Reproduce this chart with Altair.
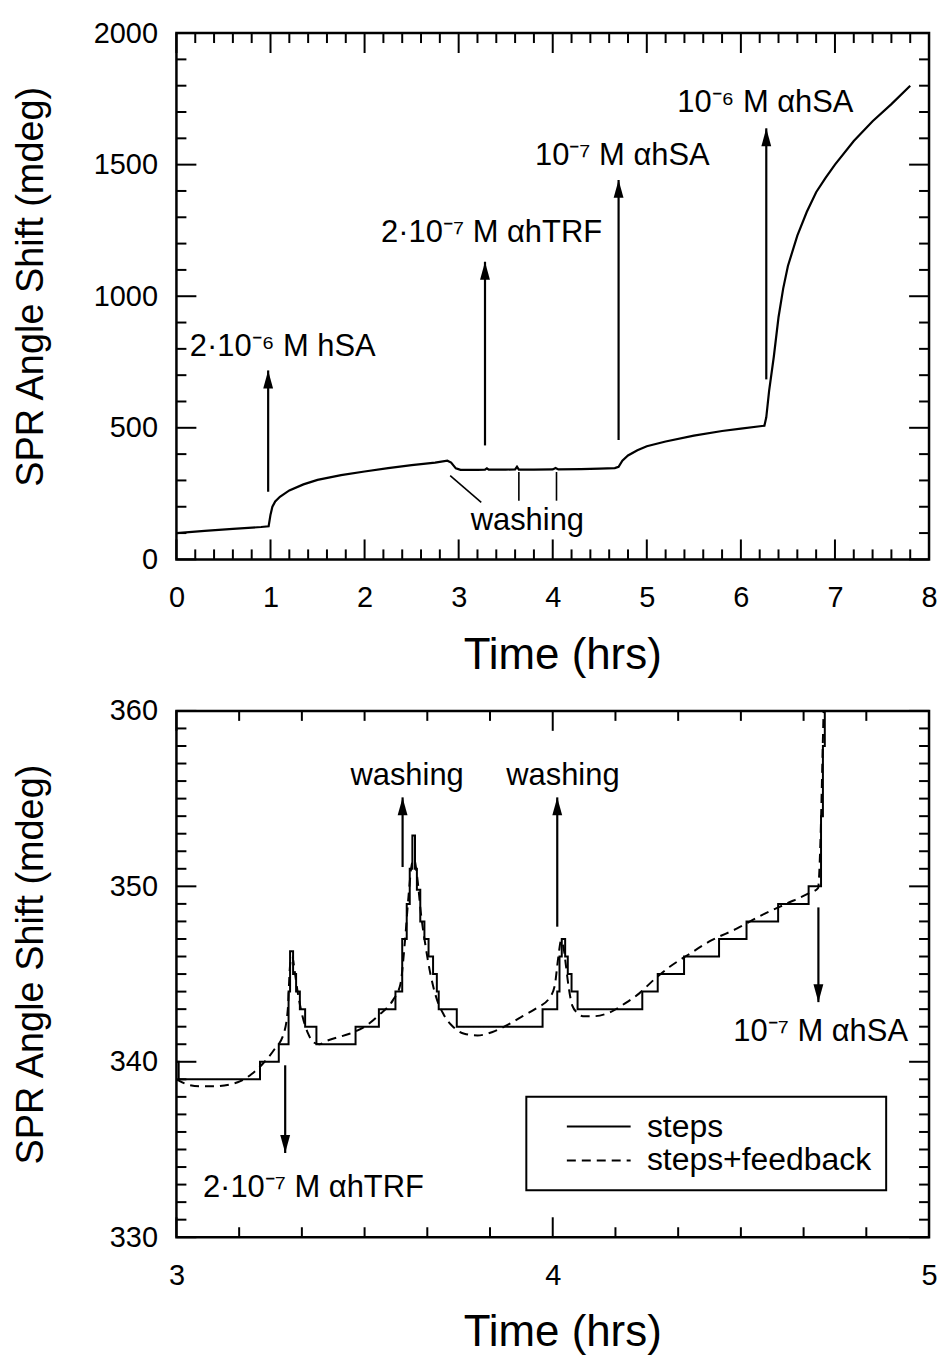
import altair as alt
import pandas as pd

FONT = "Liberation Sans"
W, H = 755, 528
MAJ, MIN = 20, 10

# ---------------- top panel data ----------------
top_time = [0.0, 0.3, 0.6, 0.9, 0.98, 1.0, 1.02, 1.05, 1.1, 1.2, 1.35, 1.5, 1.75, 2.0, 2.25,
            2.5, 2.75, 2.88, 2.92, 2.97, 3.02, 3.2, 3.28, 3.3, 3.32, 3.5, 3.6, 3.62, 3.64,
            3.8, 4.0, 4.03, 4.06, 4.3, 4.5, 4.66, 4.70, 4.74, 4.8, 4.9, 5.0, 5.2, 5.5, 5.8,
            6.0, 6.25, 6.27, 6.3, 6.35, 6.4, 6.45, 6.5, 6.6, 6.7, 6.8, 6.9, 7.0, 7.2, 7.4,
            7.6, 7.8]
top_shift = [100, 108, 116, 123, 126, 170, 200, 220, 238, 262, 285, 302, 320, 334, 347,
             358, 368, 375, 368, 346, 340, 340, 341, 346, 341, 341, 342, 352, 341,
             341, 342, 347, 342, 343, 345, 347, 352, 375, 395, 415, 430, 448, 470, 488,
             497, 508, 540, 640, 770, 920, 1030, 1115, 1230, 1320, 1395, 1450, 1500, 1590, 1665,
             1730, 1800]

top_arrow_t = [0.975, 3.28, 4.70, 6.27]
top_arrow_start = [257, 433, 454, 684]
top_arrow_tip = [718, 1131, 1442, 1638]

top_label_text = ["2·10⁻⁶ M hSA", "2·10⁻⁷ M αhTRF", "10⁻⁷ M αhSA", "10⁻⁶ M αhSA", "washing"]
top_label_t = [1.13, 3.35, 4.74, 6.26, 3.73]
top_label_v = [772, 1205, 1500, 1700, 112]

wash_x0 = [2.91, 3.64, 4.04]
wash_x1 = [3.24, 3.64, 4.04]
wash_y0 = [318, 332, 332]
wash_y1 = [217, 223, 223]

top_x_major = [0, 1, 2, 3, 4, 5, 6, 7, 8]
top_x_minor = [i * 0.2 for i in range(41) if i % 5]
top_y_major = [0, 500, 1000, 1500, 2000]
top_y_minor = [i * 100 for i in range(21) if i % 5]

# ---------------- bottom panel data ----------------
step_t = [3.000, 3.006, 3.222, 3.272, 3.298, 3.302, 3.310, 3.318, 3.328, 3.342, 3.372,
          3.476, 3.538, 3.582, 3.600, 3.612, 3.620, 3.627, 3.634, 3.639, 3.648, 3.659,
          3.670, 3.682, 3.692, 3.697, 3.745, 3.973, 4.012, 4.018, 4.024, 4.033, 4.040,
          4.050, 4.066, 4.238, 4.279, 4.349, 4.442, 4.515, 4.599, 4.680, 4.713, 4.718,
          4.723, 4.760]
step_v = [340, 339, 340, 341, 344, 346.3, 345, 344, 343, 342, 341,
          342, 343, 344, 347, 349, 351, 352.9, 351, 349.8, 348, 347,
          346, 345, 344, 343, 342, 343, 344, 346, 347, 346, 345,
          344, 343, 344, 345, 346, 347, 348, 349, 350, 354, 358,
          362, 362]

fb_t = [3.0, 3.03, 3.06, 3.1, 3.14, 3.17, 3.2, 3.23, 3.26, 3.285, 3.296, 3.302, 3.308,
        3.314, 3.322, 3.335, 3.35, 3.365, 3.38, 3.4, 3.43, 3.46, 3.5, 3.54, 3.575, 3.595,
        3.607, 3.617, 3.626, 3.632, 3.64, 3.65, 3.662, 3.675, 3.69, 3.71, 3.735, 3.765,
        3.8, 3.84, 3.88, 3.92, 3.96, 3.99, 4.005, 4.015, 4.022, 4.028, 4.035, 4.042, 4.052,
        4.065, 4.08, 4.11, 4.15, 4.19, 4.23, 4.27, 4.31, 4.36, 4.42, 4.49, 4.55, 4.62,
        4.68, 4.705, 4.712, 4.717, 4.722]
fb_v = [339.0, 338.7, 338.6, 338.6, 338.7, 338.9, 339.3, 339.9, 340.7, 341.6, 343.0,
        345.5, 346.0, 345.2, 344.0, 342.6, 341.6, 341.1, 341.0, 341.2, 341.4, 341.6, 342.0,
        342.7, 343.5, 344.4, 346.8, 349.5, 351.3, 351.5, 350.5, 348.4, 346.6, 345.0, 343.7,
        342.7, 342.0, 341.6, 341.5, 341.7, 342.1, 342.6, 343.1, 343.6, 344.3, 346.0, 346.9,
        346.6, 345.5, 344.3, 343.2, 342.8, 342.6, 342.6, 342.8, 343.3, 343.9, 344.7, 345.4,
        346.1, 346.9, 347.6, 348.3, 349.0, 349.6, 349.9, 353.0, 357.5, 362.0]

bot_arrow_t = [3.289, 3.601, 4.012, 4.706]
bot_arrow_start = [339.8, 351.1, 347.7, 348.8]
bot_arrow_tip = [334.8, 355.07, 355.07, 343.4]

bot_label_text = ["2·10⁻⁷ M αhTRF", "washing", "washing", "10⁻⁷ M αhSA"]
bot_label_t = [3.364, 3.613, 4.027, 4.712]
bot_label_v = [332.3, 355.8, 355.8, 341.2]

bot_x_major = [3, 4, 5]
bot_x_minor = [3 + i / 6 for i in range(13) if i % 6]
bot_y_major = [330, 340, 350, 360]
bot_y_minor = [330 + i for i in range(31) if i % 10]

series_names = ["steps", "steps+feedback"]

UP = "M0,0L0.55,2L-0.55,2Z"
DOWN = "M0,0L0.55,-2L-0.55,-2Z"


def x_axis(vals):
    # tick count chosen so that the automatic ticks fall on the listed values
    return alt.Axis(tickCount=len(vals) - 1, format="d", title="Time (hrs)", ticks=False,
                    domain=False, grid=False, labelFont=FONT, labelFontSize=29,
                    labelColor="black", labelPadding=24, labelFlush=False, labelOverlap=False,
                    titleFont=FONT, titleFontSize=44, titleFontWeight="normal",
                    titleColor="black", titleBaseline="alphabetic", titleY=109, titleX=387)


def y_axis(vals, ty):
    return alt.Axis(values=vals, format="d", title="SPR Angle Shift (mdeg)", ticks=False,
                    domain=False, grid=False, labelFont=FONT, labelFontSize=29,
                    labelColor="black", labelPadding=19, labelFlush=False, labelOverlap=False,
                    titleFont=FONT, titleFontSize=38, titleFontWeight="normal",
                    titleColor="black", titleBaseline="alphabetic", titleX=-134, titleY=ty,
                    titleAngle=270, titleAlign="center")


class Panel:
    def __init__(self, xdom, ydom, xmaj, ymaj):
        self.xs = alt.Scale(domain=xdom, nice=False, zero=False)
        self.ys = alt.Scale(domain=ydom, nice=False, zero=False)
        self.xa = x_axis(xmaj)
        self.ya = y_axis(ymaj, 254)

    def X(self, f):
        return alt.X(f, scale=self.xs, axis=self.xa)

    def Y(self, f):
        return alt.Y(f, scale=self.ys, axis=self.ya)

    def frame_ticks(self, xmaj, xmin, ymaj, ymin):
        out = []
        for vals, L in ((xmaj, MAJ), (xmin, MIN)):
            d = pd.DataFrame({"t": vals})
            r = alt.Chart(d).mark_rule(color="black", strokeWidth=2)
            out.append(r.encode(x=self.X("t:Q"), y=alt.value(H), y2=alt.value(H - L)))
            out.append(r.encode(x=self.X("t:Q"), y=alt.value(0), y2=alt.value(L)))
        for vals, L in ((ymaj, MAJ), (ymin, MIN)):
            d = pd.DataFrame({"v": vals})
            r = alt.Chart(d).mark_rule(color="black", strokeWidth=2)
            out.append(r.encode(y=self.Y("v:Q"), x=alt.value(0), x2=alt.value(L)))
            out.append(r.encode(y=self.Y("v:Q"), x=alt.value(W), x2=alt.value(W - L)))
        return out

    def arrows(self, t, start, tip):
        d = pd.DataFrame({"t": t, "v": start, "tip": tip})
        base = alt.Chart(d)
        shaft = base.mark_rule(color="black", strokeWidth=2.2).encode(
            x=self.X("t:Q"), y=self.Y("v:Q"), y2="tip:Q")
        up = base.transform_filter("datum.tip > datum.v").transform_calculate(
            v="datum.tip").mark_point(
            shape=UP, filled=True, size=324, color="black", opacity=1, strokeWidth=0).encode(
            x=self.X("t:Q"), y=self.Y("v:Q"))
        down = base.transform_filter("datum.tip < datum.v").transform_calculate(
            v="datum.tip").mark_point(
            shape=DOWN, filled=True, size=324, color="black", opacity=1, strokeWidth=0).encode(
            x=self.X("t:Q"), y=self.Y("v:Q"))
        return [shaft, up, down]

    def labels(self, text, t, v):
        d = pd.DataFrame({"label": text, "t": t, "v": v})
        return alt.Chart(d).mark_text(font=FONT, fontSize=31, color="black", align="center",
                                      baseline="alphabetic").encode(
            x=self.X("t:Q"), y=self.Y("v:Q"), text="label:N")


# ---------------- top panel ----------------
p1 = Panel([0, 8], [0, 2000], top_x_major, top_y_major)

top_df = pd.DataFrame({"t": top_time, "v": top_shift})
top_line = alt.Chart(top_df).mark_line(color="black", strokeWidth=2.2).encode(
    x=p1.X("t:Q"), y=p1.Y("v:Q"))

wash_df = pd.DataFrame({"t": wash_x0, "t1": wash_x1, "v": wash_y0, "v1": wash_y1})
wash_lines = alt.Chart(wash_df).mark_rule(color="black", strokeWidth=1.6).encode(
    x=p1.X("t:Q"), x2="t1:Q", y=p1.Y("v:Q"), y2="v1:Q")

top = alt.layer(
    top_line, wash_lines,
    *p1.arrows(top_arrow_t, top_arrow_start, top_arrow_tip),
    p1.labels(top_label_text, top_label_t, top_label_v),
    *p1.frame_ticks(top_x_major, top_x_minor, top_y_major, top_y_minor),
).properties(width=W, height=H)

# ---------------- bottom panel ----------------
p2 = Panel([3, 5], [330, 360], bot_x_major, bot_y_major)
dash_scale = alt.Scale(domain=series_names, range=[[1, 0], [9, 6]])

legend = alt.Legend(
    orient="none", legendX=351, legendY=387, title=None, labelFont=FONT,
    labelFontSize=32, labelColor="black", labelLimit=500, symbolType="M1,0L7,0",
    symbolSize=455, symbolStrokeWidth=2, symbolStrokeColor="black", labelOffset=75,
    padding=14, rowPadding=2, strokeColor="black", fillColor="white")

step_df = pd.DataFrame({"t": step_t, "v": step_v, "series": series_names[0]})
fb_df = pd.DataFrame({"t": fb_t, "v": fb_v, "series": series_names[1]})

step_line = alt.Chart(step_df).mark_line(
    color="black", strokeWidth=2, interpolate="step-after", clip=True).encode(
    x=p2.X("t:Q"), y=p2.Y("v:Q"),
    strokeDash=alt.StrokeDash("series:N", scale=dash_scale, legend=legend))
fb_line = alt.Chart(fb_df).mark_line(
    color="black", strokeWidth=2, interpolate="monotone", clip=True).encode(
    x=p2.X("t:Q"), y=p2.Y("v:Q"),
    strokeDash=alt.StrokeDash("series:N", scale=dash_scale, legend=legend))

bottom = alt.layer(
    step_line, fb_line,
    *p2.arrows(bot_arrow_t, bot_arrow_start, bot_arrow_tip),
    p2.labels(bot_label_text, bot_label_t, bot_label_v),
    *p2.frame_ticks(bot_x_major, bot_x_minor, bot_y_major, bot_y_minor),
).properties(width=W, height=H)

chart = alt.vconcat(top, bottom, spacing=16).resolve_legend(
    strokeDash="independent").properties(
    padding={"left": 11, "top": 15, "right": 0, "bottom": 0},
    background="white").configure_view(stroke="black", strokeWidth=2.5).configure_legend(
    strokeWidth=2).configure_axis(labelOverlap=False)

chart.save("out.html", embed_options={"renderer": "svg", "actions": False})
